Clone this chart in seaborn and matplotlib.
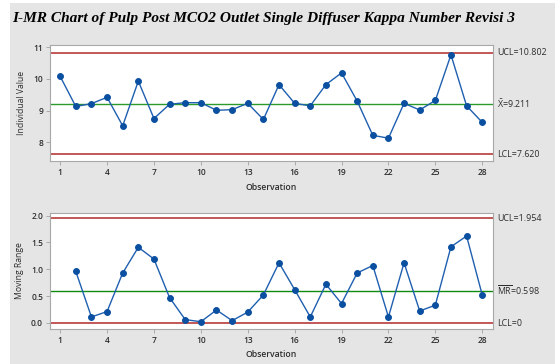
import numpy as np
import pandas as pd
import matplotlib
matplotlib.use("Agg")
import matplotlib.pyplot as plt
import seaborn as sns
from matplotlib.patches import Rectangle

# ---- data ----
observations = list(range(1, 29))
individual_values = [10.08, 9.13, 9.22, 9.42, 8.52, 9.93, 8.75, 9.20, 9.25, 9.25,
                     9.01, 9.03, 9.23, 8.72, 9.82, 9.23, 9.15, 9.82, 10.19, 9.30,
                     8.22, 8.13, 9.23, 9.02, 9.32, 10.76, 9.15, 8.63]
mr_observations = list(range(2, 29))
moving_ranges = [0.96, 0.11, 0.21, 0.93, 1.41, 1.19, 0.47, 0.06, 0.02, 0.24,
                 0.04, 0.20, 0.52, 1.12, 0.62, 0.11, 0.72, 0.36, 0.93, 1.07,
                 0.11, 1.12, 0.22, 0.33, 1.42, 1.62, 0.52]
i_limits = {"UCL": 10.802, "CL": 9.211, "LCL": 7.620}
mr_limits = {"UCL": 1.954, "CL": 0.598, "LCL": 0.0}
x_ticks = [1, 4, 7, 10, 13, 16, 19, 22, 25, 28]
i_yticks = [8, 9, 10, 11]
mr_yticks = [0.0, 0.5, 1.0, 1.5, 2.0]
title = "I-MR Chart of Pulp Post MCO2 Outlet Single Diffuser Kappa Number Revisi 3"

sns.set_theme(style="white")
plt.rcParams['font.family'] = ['Open Sans', 'DejaVu Sans']
plt.rcParams['mathtext.fontset'] = 'custom'
plt.rcParams['mathtext.rm'] = 'Open Sans'
plt.rcParams['mathtext.it'] = 'Open Sans'

W, H = 555, 364
fig = plt.figure(figsize=(W / 100, H / 100), dpi=100)
fig.patch.set_facecolor("white")
fig.patches.append(Rectangle((10 / W, 0), 1 - 10 / W, 361 / H, transform=fig.transFigure,
                             facecolor="#e5e5e5", edgecolor="none", zorder=-10))

def px_axes(left, top, right, bottom):
    return fig.add_axes([left / W, (H - bottom) / H, (right - left) / W, (bottom - top) / H])

ax1 = px_axes(50, 45, 492.7, 161)
ax2 = px_axes(50, 212.7, 492.7, 328.7)

blue = "#1f5fb0"
mblue = "#0a4fa0"
red = "#b22a2a"
green_i = "#2a9a2a"
green_mr = "#108a10"
txt = "#2e2e2e"

df_i = pd.DataFrame({"Observation": observations, "Value": individual_values})
df_mr = pd.DataFrame({"Observation": mr_observations, "MR": moving_ranges})

def style(ax, yticks, ylim, ylabel):
    ax.set_facecolor("white")
    ax.set_xlim(0.35, 28.67)
    ax.set_ylim(*ylim)
    ax.set_xticks(x_ticks)
    ax.set_yticks(yticks)
    for s in ax.spines.values():
        s.set_color("#a8a8a8")
        s.set_linewidth(0.8)
    ax.tick_params(axis="both", which="both", length=3, width=0.6, color="#a0a0a0",
                   labelsize=6.0, labelcolor=txt, pad=2, left=True, bottom=True)
    for lab in ax.get_xticklabels() + ax.get_yticklabels():
        lab.set_fontweight("semibold")
    ax.set_xlabel("Observation", fontsize=6.2, color=txt, labelpad=4, fontweight="semibold")
    ax.set_ylabel(ylabel, fontsize=6.2, color=txt, labelpad=5)

# Individual chart
ax1.axhline(i_limits["UCL"], color=red, lw=1.1, zorder=1)
ax1.axhline(i_limits["LCL"], color=red, lw=1.1, zorder=1)
ax1.axhline(i_limits["CL"], color=green_i, lw=1.0, zorder=1)
sns.lineplot(data=df_i, x="Observation", y="Value", ax=ax1, color=blue, lw=1.0,
             marker="o", markersize=4.2, markerfacecolor=mblue, markeredgecolor=mblue, zorder=3)
ax1.set_yticks(i_yticks)
ax1.set_yticklabels([str(v) for v in i_yticks])
style(ax1, i_yticks, (7.41, 11.07), "Individual Value")

# MR chart
ax2.axhline(mr_limits["UCL"], color=red, lw=1.1, zorder=1)
ax2.axhline(mr_limits["LCL"], color=red, lw=1.1, zorder=1)
ax2.axhline(mr_limits["CL"], color=green_mr, lw=1.0, zorder=1)
sns.lineplot(data=df_mr, x="Observation", y="MR", ax=ax2, color=blue, lw=1.0,
             marker="o", markersize=4.2, markerfacecolor=mblue, markeredgecolor=mblue, zorder=3)
ax2.set_yticks(mr_yticks)
ax2.set_yticklabels([f"{v:.1f}" for v in mr_yticks])
style(ax2, mr_yticks, (-0.11, 2.056), "Moving Range")

# Right-side limit labels
lab_kw = dict(fontsize=6.4, color=txt, va="center", ha="left")
tx = 497 / W
def fy(ypx):
    return (H - ypx) / H
fig.text(tx, fy(52.5), f"UCL={i_limits['UCL']:.3f}", **lab_kw)
fig.text(tx, fy(104), r"$\bar{\mathrm{X}}$" + f"={i_limits['CL']:.3f}", **lab_kw)
fig.text(tx, fy(154.3), f"LCL={i_limits['LCL']:.3f}", **lab_kw)
fig.text(tx, fy(218.5), f"UCL={mr_limits['UCL']:.3f}", **lab_kw)
fig.text(tx, fy(290.5), r"$\overline{\mathrm{MR}}$" + f"={mr_limits['CL']:.3f}", **lab_kw)
fig.text(tx, fy(323), "LCL=0", **lab_kw)

fig.text(12.5 / W, fy(18.5), title, family=["Liberation Serif", "DejaVu Serif"],
         fontsize=11.1, fontweight="bold", fontstyle="italic", color="black",
         va="center", ha="left")

fig.savefig("out.png", dpi=100)
